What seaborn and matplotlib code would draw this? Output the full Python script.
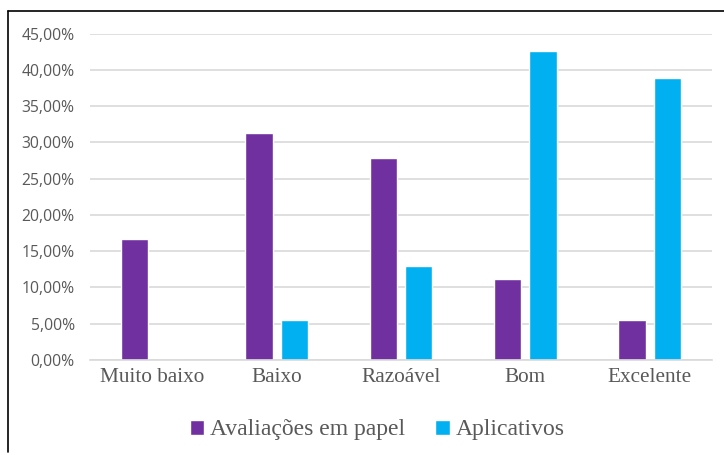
import matplotlib
matplotlib.use("Agg")
import matplotlib.pyplot as plt
import seaborn as sns
import pandas as pd
from matplotlib.ticker import FuncFormatter
from matplotlib.lines import Line2D
from matplotlib.font_manager import FontProperties

categories = ["Muito baixo", "Baixo", "Razoável", "Bom", "Excelente"]
series_names = ["Avaliações em papel", "Aplicativos"]
papel = [16.67, 31.30, 27.78, 11.11, 5.56]
aplicativos = [0.0, 5.56, 12.90, 42.59, 38.89]
colors = ["#7030A0", "#00B0F0"]

df = pd.DataFrame({
    "cat": categories * 2,
    "serie": [series_names[0]] * 5 + [series_names[1]] * 5,
    "valor": papel + aplicativos,
})

sns.set_theme(style="white")
plt.rcParams["font.family"] = ["Open Sans", "DejaVu Sans"]
serif_x = FontProperties(family=["Liberation Serif", "DejaVu Serif"], size=15.3)
serif_leg = FontProperties(family=["Liberation Serif", "DejaVu Serif"], size=17)

fig = plt.figure(figsize=(7.24, 4.55), dpi=100)
ax = fig.add_axes([90 / 724, 1 - 360 / 455, 622 / 724, (360 - 33.5) / 455])

sns.barplot(data=df, x="cat", y="valor", hue="serie", order=categories,
            hue_order=series_names, palette=colors, width=0.57, gap=0.23,
            saturation=1, ax=ax, legend=True)

ax.set_xlim(-0.5, len(categories) - 0.5)
ax.set_ylim(0, 45)
ax.set_yticks([0, 5, 10, 15, 20, 25, 30, 35, 40, 45])
ax.yaxis.set_major_formatter(FuncFormatter(lambda v, p: f"{v:.2f}%".replace(".", ",")))
ax.grid(axis="y", color="#D9D9D9", linewidth=1.2)
ax.set_axisbelow(True)
for s in ["top", "right", "left"]:
    ax.spines[s].set_visible(False)
ax.spines["bottom"].set_color("#D9D9D9")
ax.spines["bottom"].set_linewidth(1.2)
ax.set_xlabel("")
ax.set_ylabel("")
ax.tick_params(axis="y", length=0, pad=11, labelsize=11.3, labelcolor="#595959")
ax.tick_params(axis="x", length=0, pad=6, labelcolor="#595959")
ax.set_xticks(range(len(categories)))
ax.set_xticklabels(categories, fontproperties=serif_x, color="#595959")

leg = ax.legend(loc="center", bbox_to_anchor=(377 / 724, 1 - 430 / 455),
                bbox_transform=fig.transFigure, ncol=2, frameon=False,
                handlelength=0.6, handleheight=0.6, handletextpad=0.25,
                columnspacing=1.3, prop=serif_leg)
for t in leg.get_texts():
    t.set_color("#595959")

# outer frame (top and left edges)
fig.add_artist(Line2D([8 / 724, 1], [1 - 11 / 455, 1 - 11 / 455], color="black",
                      linewidth=1.2, transform=fig.transFigure))
fig.add_artist(Line2D([8 / 724, 8 / 724], [3 / 455, 1 - 11 / 455], color="black",
                      linewidth=1.2, transform=fig.transFigure))

fig.savefig("out.png", dpi=100)
